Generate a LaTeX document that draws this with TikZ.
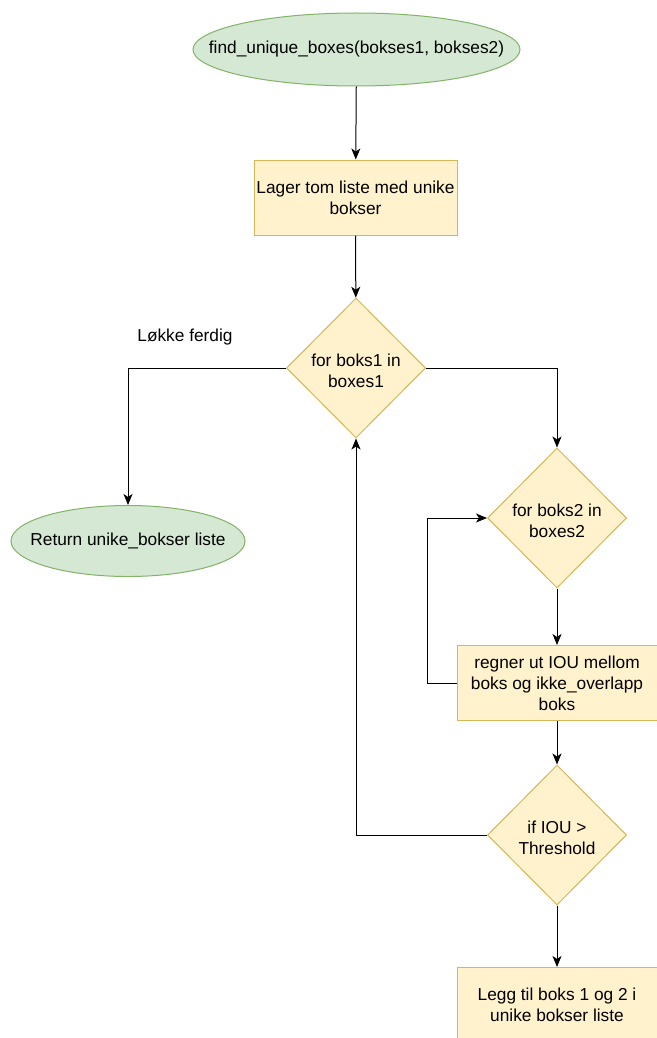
\documentclass[tikz,border=0pt]{standalone}
\usepackage{fontspec}
\setmainfont{Liberation Sans}
\usetikzlibrary{shapes.geometric,arrows.meta}
\definecolor{gfill}{HTML}{D5E8D4}
\definecolor{gline}{HTML}{82B366}
\definecolor{yfill}{HTML}{FFF2CC}
\definecolor{yline}{HTML}{D6B656}
\tikzset{
  txt/.style={font=\fontsize{17.3}{21}\selectfont},
  term/.style={ellipse, draw=gline, fill=gfill, line width=1pt, inner sep=0pt},
  tlabel/.style={txt, inner sep=0pt},
  procbox/.style={rectangle, draw=yline, fill=yfill, line width=1pt, inner sep=0pt, align=center, txt, minimum width=203pt, minimum height=75pt},
  decide/.style={diamond, draw=yline, fill=yfill, line width=1pt, inner sep=0pt, minimum width=139pt, minimum height=140pt, shape aspect=1},
  dlabel/.style={txt, align=center, inner sep=0pt},
  conn/.style={line width=1pt, -{Stealth[length=11pt,width=9pt,inset=3pt]}},
  lbl/.style={txt, inner sep=0pt}
}
\begin{document}
\begin{tikzpicture}[x=1pt,y=1pt]
\useasboundingbox (0,0) rectangle (656,-1038);
\fill[white] (0,0) rectangle (656,-1038);
\node[term, minimum width=327pt, minimum height=73pt] (start) at (356.5,-49.5) {};
\node[tlabel] (startt) at (start.center) {find\_unique\_boxes(bokses1, bokses2)};
\node[procbox] (lager) at (355.5,-197.5) {Lager tom liste med unike\\bokser};
\node[decide] (d1) at (356,-368) {};
\node[dlabel] (d1t) at (356,-371) {for boks1 in\\boxes1};
\node[lbl] (lf) at (185,-337) {Løkke ferdig};
\node[term, minimum width=234pt, minimum height=71pt] (ret) at (128,-541) {};
\node[tlabel] (rett) at (ret.center) {Return unike\_bokser liste};
\node[decide] (d2) at (557,-518) {};
\node[dlabel] (d2t) at (557,-521) {for boks2 in\\boxes2};
\node[procbox, minimum width=200pt] (iou) at (557,-683) {regner ut IOU mellom\\boks og ikke\_overlapp\\boks};
\node[decide] (d3) at (557,-835) {};
\node[dlabel] (d3t) at (557,-838) {if IOU >\\Threshold};
\node[procbox, minimum width=200pt] (legg) at (557,-1005) {Legg til boks 1 og 2 i\\unike bokser liste};

\draw[conn] (start) -- (lager);
\draw[conn] (lager) -- (d1);
\draw[conn] (d1.west) -| (ret.north);
\draw[conn] (d1.east) -| (d2.north);
\draw[conn] (d2) -- (iou);
\draw[conn] (iou.west) -- ++(-29,0) |- (d2.west);
\draw[conn] (iou) -- (d3);
\draw[conn] (d3.west) -| (d1.south);
\draw[conn] (d3) -- (legg);
\end{tikzpicture}
\end{document}
